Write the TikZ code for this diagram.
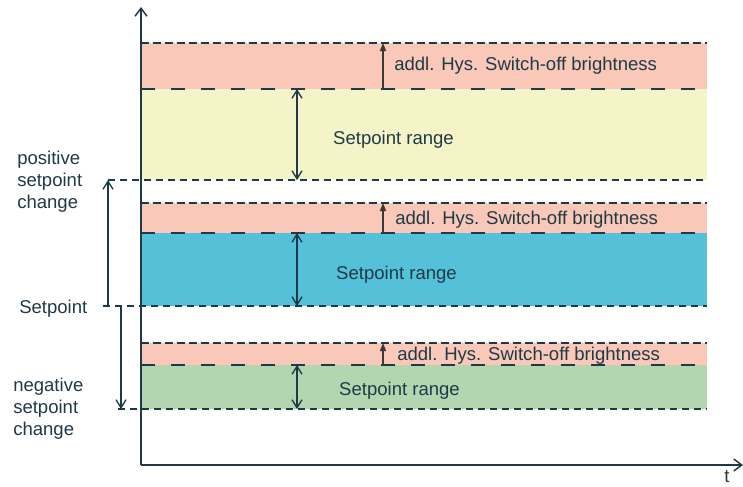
\documentclass[tikz,border=0pt]{standalone}
\usepackage{fontspec}
\setmainfont{Liberation Sans}
\usetikzlibrary{arrows.meta}
\definecolor{Ink}{RGB}{30,58,70}
\definecolor{HysRed}{RGB}{249,200,184}
\definecolor{RangeYellow}{RGB}{245,243,200}
\definecolor{RangeBlue}{RGB}{85,193,217}
\definecolor{RangeGreen}{RGB}{179,214,176}
\definecolor{TipGrey}{RGB}{62,56,56}
\newcommand\lblfont{\fontsize{13.9}{16.5}\selectfont}

\begin{document}
\begin{tikzpicture}[
    x=0.75pt,
    y=-0.75pt,
    every node/.style={text=Ink, font=\lblfont, inner sep=0pt},
    axis/.style={draw=Ink, line width=1.1pt, -{Straight Barb[length=6pt, width=9pt]}},
    hysline/.style={draw=Ink, line width=0.95pt, dash pattern=on 6pt off 3pt},
    rangeline/.style={draw=Ink, line width=0.95pt, dash pattern=on 10.5pt off 12pt},
    baseline/.style={draw=Ink, line width=0.95pt, dash pattern=on 5.25pt off 3.75pt},
    rangearrow/.style={draw=Ink, line width=1pt, {Straight Barb[length=6pt, width=7.5pt]}-{Straight Barb[length=6pt, width=7.5pt]}},
    hysarrow/.style={draw=TipGrey, line width=0.9pt, -{Triangle[length=6pt, width=4.5pt]}},
    changearrow/.style={draw=Ink, line width=1pt, -{Straight Barb[length=6pt, width=7.5pt]}}
  ]
    \useasboundingbox (0,0) rectangle (743,486);

    % Upper band
    \fill[HysRed] (141,43) rectangle (707,89);
    \fill[RangeYellow] (141,89) rectangle (707,180);
    \draw[hysline] (141,43) -- (707,43);
    \draw[rangeline] (141,89) -- (707,89);
    \draw[baseline] (108,180) -- (707,180);

    % Middle band
    \fill[HysRed] (141,203) rectangle (707,233);
    \fill[RangeBlue] (141,233) rectangle (707,306);
    \draw[hysline] (141,203) -- (707,203);
    \draw[rangeline] (141,233) -- (707,233);
    \draw[baseline] (103,306) -- (707,306);

    % Lower band
    \fill[HysRed] (141,343) rectangle (707,365);
    \fill[RangeGreen] (141,365) rectangle (707,409);
    \draw[hysline] (141,343) -- (707,343);
    \draw[rangeline] (141,365) -- (707,365);
    \draw[baseline] (118,409) -- (707,409);

    % Axes
    \coordinate (origin) at (141,465);
    \coordinate (ytip) at (141,7);
    \coordinate (xtip) at (743,465);
    \draw[axis] (origin) -- (ytip);
    \draw[axis] (origin) -- (xtip);
    \node (tlabel) at (727,477) {t};

    % Range arrows
    \coordinate (upTop) at (297,89);
    \coordinate (upBot) at (297,180);
    \coordinate (midTop) at (297,233);
    \coordinate (midBot) at (297,306);
    \coordinate (lowTop) at (297,365);
    \coordinate (lowBot) at (297,409);
    \draw[rangearrow] (upTop) -- (upBot);
    \draw[rangearrow] (midTop) -- (midBot);
    \draw[rangearrow] (lowTop) -- (lowBot);

    % Hysteresis arrows
    \coordinate (hysUpFrom) at (383,89);
    \coordinate (hysUpTo) at (383,43);
    \coordinate (hysMidFrom) at (383,233);
    \coordinate (hysMidTo) at (383,203);
    \coordinate (hysLowFrom) at (383,365);
    \coordinate (hysLowTo) at (383,343);
    \draw[hysarrow] (hysUpFrom) -- (hysUpTo);
    \draw[hysarrow] (hysMidFrom) -- (hysMidTo);
    \draw[hysarrow] (hysLowFrom) -- (hysLowTo);

    % Band labels
    \node[anchor=west] (hysUp) at (394,66) {addl. Hys. Switch-off brightness};
    \node[anchor=west] (hysMid) at (395,220) {addl. Hys. Switch-off brightness};
    \node[anchor=west] (hysLow) at (397,356) {addl. Hys. Switch-off brightness};
    \node (rangeUp) at (393.5,140) {Setpoint range};
    \node (rangeMid) at (396.5,275) {Setpoint range};
    \node (rangeLow) at (399.5,391) {Setpoint range};

    % Setpoint change
    \coordinate (spPos) at (108,306);
    \coordinate (spPosTo) at (108,180);
    \coordinate (spNeg) at (121,306);
    \coordinate (spNegTo) at (121,409);
    \draw[changearrow] (spPos) -- (spPosTo);
    \draw[changearrow] (spNeg) -- (spNegTo);
    \node[anchor=west, align=left] (posChange) at (17,182) {positive\\setpoint\\change};
    \node[anchor=west] (setpoint) at (19,309) {Setpoint};
    \node[anchor=west, align=left] (negChange) at (13,409) {negative\\setpoint\\change};
  \end{tikzpicture}
\end{document}
